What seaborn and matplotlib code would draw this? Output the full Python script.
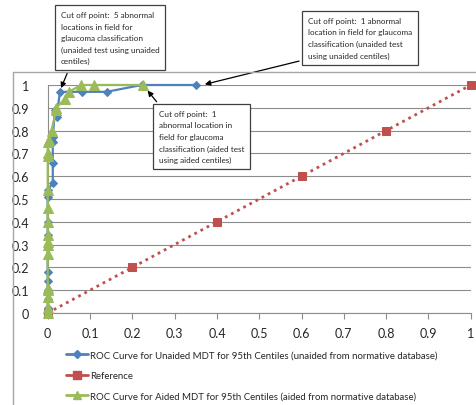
import numpy as np
import pandas as pd
import matplotlib
matplotlib.use("Agg")
import matplotlib.pyplot as plt
import seaborn as sns
from matplotlib.lines import Line2D

# ROC data
unaided_fpr = [0, 0, 0, 0, 0, 0, 0, 0, 0, 0, 0,
               0.012, 0.012, 0.012, 0.012, 0.017, 0.021, 0.029, 0.08, 0.139, 0.222, 0.35]
unaided_tpr = [0, 0.02, 0.06, 0.10, 0.14, 0.18, 0.29, 0.34, 0.40, 0.51, 0.54,
               0.57, 0.66, 0.75, 0.77, 0.89, 0.86, 0.97, 0.97, 0.97, 1.0, 1.0]

aided_fpr = [0, 0, 0, 0, 0, 0, 0, 0, 0, 0, 0, 0, 0, 0, 0,
             0.004, 0.009, 0.02, 0.02, 0.041, 0.05, 0.079, 0.11, 0.225]
aided_tpr = [0, 0.02, 0.07, 0.10, 0.11, 0.26, 0.30, 0.31, 0.34, 0.40, 0.46, 0.54, 0.69, 0.70, 0.75,
             0.76, 0.80, 0.89, 0.90, 0.94, 0.97, 1.0, 1.0, 1.0]

ref_x = [0, 0.2, 0.4, 0.6, 0.8, 1.0]
ref_y = [0, 0.2, 0.4, 0.6, 0.8, 1.0]

labels = ["ROC Curve for Unaided MDT for 95th Centiles (unaided from normative database)",
          "Reference",
          "ROC Curve for Aided MDT for 95th Centiles (aided from normative database)"]

blue, red, green = "#4F81BD", "#C0504D", "#9BBB59"

sns.set_style("white")
plt.rcParams["font.family"] = ["Lato", "DejaVu Sans"]

fig = plt.figure(figsize=(4.77, 4.06), dpi=100)
ax = fig.add_axes([0.1, 0.2266, 0.887, 0.5616])

df_u = pd.DataFrame({"x": unaided_fpr, "y": unaided_tpr})
df_r = pd.DataFrame({"x": ref_x, "y": ref_y})
df_a = pd.DataFrame({"x": aided_fpr, "y": aided_tpr})

sns.lineplot(data=df_u, x="x", y="y", sort=False, estimator=None, ax=ax, color=blue,
             lw=1.6, marker="D", markersize=4.5, markeredgecolor=blue, clip_on=False, zorder=4)
sns.lineplot(data=df_r, x="x", y="y", sort=False, estimator=None, ax=ax, color=red,
             lw=2, linestyle=(0, (1, 1.5)), marker="s", markersize=6, markeredgecolor=red,
             clip_on=False, zorder=3)
sns.lineplot(data=df_a, x="x", y="y", sort=False, estimator=None, ax=ax, color=green,
             lw=1.6, marker="^", markersize=6.5, markeredgecolor=green, clip_on=False, zorder=5)

ticks = np.round(np.arange(0, 1.01, 0.1), 1)
tick_labels = ["0"] + [f"{v:g}" for v in ticks[1:]]
ax.set_xlim(0, 1)
ax.set_ylim(0, 1)
ax.set_xticks(ticks)
ax.set_yticks(ticks)
ax.set_xticklabels(tick_labels)
ax.set_yticklabels(tick_labels)
ax.set_xlabel("")
ax.set_ylabel("")
ax.yaxis.grid(True, color="#8c8c8c", lw=0.8)
ax.xaxis.grid(False)
for s in ["top", "right"]:
    ax.spines[s].set_visible(False)
for s in ["left", "bottom"]:
    ax.spines[s].set_color("#8c8c8c")
    ax.spines[s].set_linewidth(0.8)
ax.tick_params(axis="x", bottom=True, length=4, color="#8c8c8c", labelsize=9, pad=6)
ax.tick_params(axis="y", left=False, labelsize=9, pad=10)

# chart area border (cropped)
fig.add_artist(Line2D([13 / 477, 1], [1 - 73 / 406, 1 - 73 / 406], transform=fig.transFigure,
                      color="#a6a6a6", lw=1))
fig.add_artist(Line2D([13 / 477, 13 / 477], [0, 1 - 73 / 406], transform=fig.transFigure,
                      color="#a6a6a6", lw=1))

# annotations
box = dict(boxstyle="square,pad=0.7", fc="white", ec="#404040", lw=0.9)
arrow = dict(arrowstyle="-|>", color="black", lw=0.9, mutation_scale=8)
fs = 5.9
ax.annotate("Cut off point:  5 abnormal\nlocations in field for\nglaucoma classification\n(unaided test using unaided\ncentiles)",
            xy=(0.029, 0.975), xycoords="data", xytext=(61 / 477, 1 - 12 / 406),
            textcoords="figure fraction", ha="left", va="top", fontsize=fs, linespacing=1.75,
            bbox=box, arrowprops=dict(arrow, relpos=(0.1, 0)), zorder=10)
ax.annotate("Cut off point:  1 abnormal\nlocation in field for glaucoma\nclassification (unaided test\nusing unaided centiles)",
            xy=(0.365, 1.0), xycoords="data", xytext=(308 / 477, 1 - 18 / 406),
            textcoords="figure fraction", ha="left", va="top", fontsize=fs, linespacing=1.75,
            bbox=box, arrowprops=dict(arrow, relpos=(0, 0)), zorder=10)
ax.annotate("Cut off point:  1\nabnormal location in\nfield for glaucoma\nclassification (aided test\nusing aided centiles)",
            xy=(0.232, 0.985), xycoords="data", xytext=(159 / 477, 1 - 111 / 406),
            textcoords="figure fraction", ha="left", va="top", fontsize=fs, linespacing=1.75,
            bbox=box, arrowprops=dict(arrow, relpos=(0.05, 1)), zorder=10)

handles = [Line2D([], [], color=blue, lw=2, marker="D", markersize=4.5),
           Line2D([], [], color=red, lw=2, marker="s", markersize=5.5),
           Line2D([], [], color=green, lw=2, marker="^", markersize=6)]
fig.legend(handles, labels, loc="upper left", bbox_to_anchor=(62 / 477, 1 - 348 / 406),
           frameon=False, fontsize=6.9, handlelength=2.3, handletextpad=0.2,
           labelspacing=1.2, borderaxespad=0)

fig.savefig("out.png", dpi=100)
